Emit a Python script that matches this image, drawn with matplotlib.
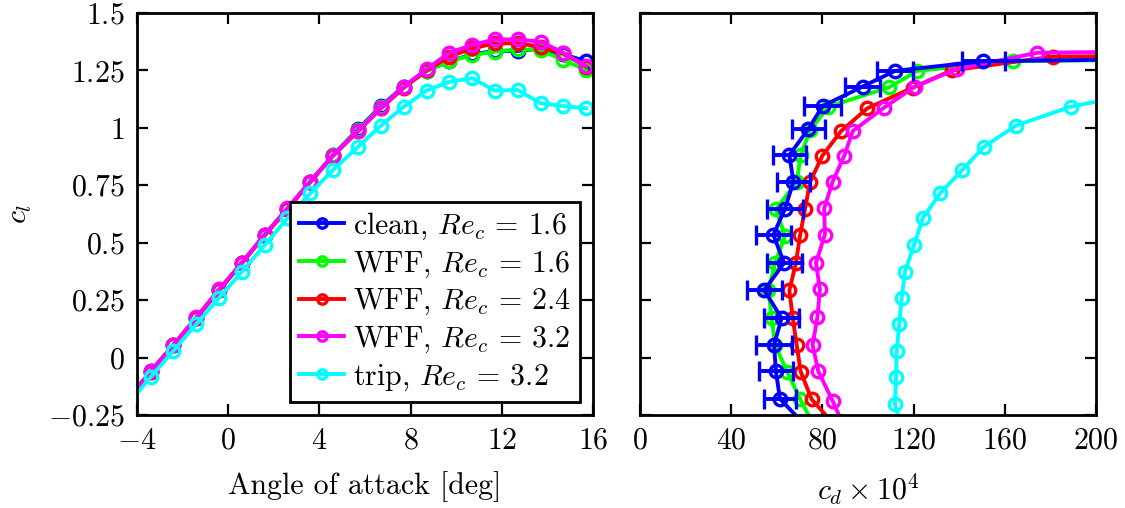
import matplotlib
matplotlib.use('Agg')
import matplotlib.pyplot as plt
from matplotlib.ticker import FuncFormatter, FixedLocator

plt.rcParams['mathtext.fontset'] = 'cm'
plt.rcParams['font.family'] = 'serif'
plt.rcParams['font.serif'] = ['cmr10']
plt.rcParams['axes.formatter.use_mathtext'] = True

# angle of attack [deg]
alpha = [-5.4, -4.4, -3.4, -2.4, -1.4, -0.4, 0.6, 1.6, 2.6, 3.6, 4.6,
         5.7, 6.7, 7.7, 8.7, 9.7, 10.7, 11.7, 12.7, 13.7, 14.7, 15.7]

cl_clean = [-0.29, -0.18, -0.06, 0.055, 0.172, 0.293, 0.412, 0.534, 0.648, 0.766, 0.882,
            0.994, 1.095, 1.18, 1.248, 1.29, 1.32, 1.335, 1.335, 1.345, 1.32, 1.29]
cl_wff16 = [-0.29, -0.18, -0.062, 0.055, 0.172, 0.293, 0.41, 0.53, 0.645, 0.764, 0.88,
            0.99, 1.092, 1.177, 1.248, 1.29, 1.317, 1.332, 1.342, 1.339, 1.295, 1.252]
cl_wff24 = [-0.30, -0.182, -0.062, 0.055, 0.173, 0.292, 0.412, 0.532, 0.648, 0.765, 0.879,
            0.986, 1.085, 1.175, 1.25, 1.31, 1.346, 1.368, 1.368, 1.353, 1.324, 1.266]
cl_wff32 = [-0.30, -0.189, -0.06, 0.055, 0.175, 0.297, 0.413, 0.535, 0.65, 0.766, 0.879,
            0.986, 1.088, 1.179, 1.256, 1.327, 1.361, 1.385, 1.385, 1.375, 1.327, 1.269]
cl_trip = [-0.32, -0.202, -0.085, 0.03, 0.145, 0.26, 0.374, 0.49, 0.606, 0.715, 0.817,
           0.918, 1.01, 1.092, 1.162, 1.201, 1.216, 1.162, 1.165, 1.107, 1.095, 1.085]

# drag coefficient x 1e4
cd_clean = [72, 61.4, 59.6, 58.8, 62.1, 54.5, 63.2, 58.5, 63.6, 67.3, 65.5,
            73.8, 80.1, 97.7, 111.8, 150.6, 400, 440, 480, 520, 560, 600]
cd_clean_err = [7.5, 7.2, 7.5, 8.0, 7.7, 7.7, 7.7, 7.7, 8.0, 7.3, 7.3,
                7.2, 8.2, 7.7, 8.0, 9.5, 9, 9, 9, 9, 9, 9]
cd_wff16 = [76, 70.2, 64.6, 59.2, 57.8, 56.3, 59.2, 63.6, 59.6, 68.7, 70.5,
            74.6, 82.6, 109.4, 121.6, 163.7, 400, 440, 480, 520, 560, 600]
cd_wff24 = [86, 75.3, 70.5, 68.7, 67, 65.5, 68.4, 70.2, 72.4, 74.6, 80.0,
            88.2, 99.7, 119.6, 136.7, 181, 600, 640, 680, 720, 760, 800]
cd_wff32 = [89.5, 84.5, 78.2, 75.7, 77.8, 78.9, 77.2, 81.1, 80.8, 84.5, 89.6,
            93.3, 107, 120.5, 138.9, 174.3, 500, 540, 580, 620, 660, 700]
cd_trip = [115, 111.8, 112.3, 112.6, 113.7, 114.8, 116.2, 120.2, 124, 131.6, 141.4,
           150.9, 164.9, 188.9, 224, 300, 340, 380, 420, 460, 500, 540]

labels = [r'clean, $Re_c$ = 1.6', r'WFF, $Re_c$ = 1.6', r'WFF, $Re_c$ = 2.4',
          r'WFF, $Re_c$ = 3.2', r'trip, $Re_c$ = 3.2']
colors = ['#0000ff', '#00ff00', '#ff0000', '#ff00ff', '#00ffff']
cls = [cl_clean, cl_wff16, cl_wff24, cl_wff32, cl_trip]
cds = [cd_clean, cd_wff16, cd_wff24, cd_wff32, cd_trip]

fs = 21.5
lw = 2.8
ms = 9.0
mew = 2.4

W, H = 1125, 508
fig = plt.figure(figsize=(W / 100, H / 100), dpi=100)
ax1 = fig.add_axes([137 / W, 1 - 415 / H, 456 / W, 402 / H])
ax2 = fig.add_axes([640 / W, 1 - 415 / H, 456 / W, 402 / H])

for cl, c, lab in zip(cls, colors, labels):
    ax1.plot(alpha, cl, '-o', color=c, lw=lw, ms=ms, mew=mew, mfc='none', label=lab)

# right panel: clean series last so its error bars sit on top
for i in [1, 2, 3, 4]:
    ax2.plot(cds[i], cls[i], '-o', color=colors[i], lw=lw, ms=ms, mew=mew, mfc='none')
ax2.errorbar(cd_clean, cl_clean, xerr=cd_clean_err, fmt='-o', color=colors[0], lw=lw,
             ms=ms, mew=mew, mfc='none', elinewidth=lw, capsize=7, capthick=2.4)

yticks = [-0.25, 0, 0.25, 0.5, 0.75, 1, 1.25, 1.5]
fmt = FuncFormatter(lambda v, p: '$%g$' % v)

ax1.set_xlim(-4, 16)
ax1.set_ylim(-0.25, 1.5)
ax1.xaxis.set_major_locator(FixedLocator([-4, 0, 4, 8, 12, 16]))
ax2.set_xlim(0, 200)
ax2.set_ylim(-0.25, 1.5)
ax2.xaxis.set_major_locator(FixedLocator([0, 40, 80, 120, 160, 200]))

for ax in (ax1, ax2):
    ax.yaxis.set_major_locator(FixedLocator(yticks))
    ax.xaxis.set_major_formatter(fmt)
    ax.yaxis.set_major_formatter(fmt)
    ax.tick_params(direction='in', top=True, right=True, length=8, width=1.6,
                   labelsize=fs, pad=9)
    for s in ax.spines.values():
        s.set_linewidth(2)
ax2.tick_params(labelleft=False)

ax1.set_xlabel('Angle of attack [deg]', fontsize=fs, labelpad=12)
ax1.set_ylabel(r'$c_l$', fontsize=fs, labelpad=10)
ax2.set_xlabel(r'$c_d \times 10^4$', fontsize=fs, labelpad=12)

leg = ax1.legend(loc='lower right', fontsize=fs, frameon=True, fancybox=False,
                 edgecolor='k', framealpha=1, handlelength=1.5, handletextpad=0.3,
                 borderpad=0.3, labelspacing=0.25, borderaxespad=0.45, markerscale=0.75)
leg.get_frame().set_linewidth(2)

fig.savefig('out.png', dpi=100)
